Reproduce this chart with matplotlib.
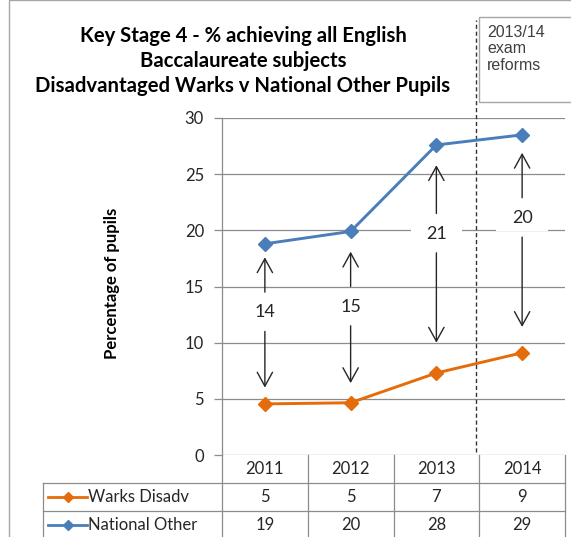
import numpy as np
import matplotlib
matplotlib.use('Agg')
import matplotlib.pyplot as plt
from matplotlib.patches import Rectangle
from matplotlib.transforms import blended_transform_factory

# KS4 EBacc results, % of pupils
years = ['2011', '2012', '2013', '2014']
warks_disadv = [4.55, 4.65, 7.3, 9.1]
national_other = [18.8, 19.9, 27.6, 28.5]
series_names = ['Warks Disadv', 'National Other']

# where the gap arrows sit (y values): head near top, head near bottom, label
arrow_top = [17.6, 18.1, 25.8, 26.9]
arrow_bottom = [6.0, 6.4, 10.0, 11.4]
label_y = [12.7, 13.2, 19.7, 21.1]

orange = '#e46c0a'
blue = '#4a7ebb'
grey = '#8c8c8c'
txt = '#262626'

plt.rcParams['font.family'] = ['Lato', 'DejaVu Sans']

W, H = 571, 537
fig = plt.figure(figsize=(W / 100, H / 100), dpi=100)

def fx(px):
    return px / W

def fy(py):
    return 1 - py / H

# chart area border
fig.patches.append(Rectangle((fx(9), fy(600)), fx(700), 600 / H, transform=fig.transFigure,
                             fill=False, ec='#a6a6a6', lw=1))

ax = fig.add_axes([fx(222), fy(455), fx(565) - fx(222), fy(118) - fy(455)])
x = np.arange(len(years))
ax.set_xlim(-0.5, len(years) - 0.5)
ax.set_ylim(0, 30)
ax.set_yticks(range(0, 31, 5))
ax.set_xticks([])
for s in ['top', 'right', 'bottom']:
    ax.spines[s].set_visible(False)
ax.spines['left'].set_color(grey)
ax.spines['left'].set_linewidth(0.9)
ax.tick_params(axis='y', length=6, width=0.9, color=grey, pad=7, labelsize=12, labelcolor=txt)
ax.grid(axis='y', color=grey, lw=0.9)
ax.set_axisbelow(True)

ax.plot(x, warks_disadv, color=orange, lw=2.1, marker='D', ms=7.5, zorder=3)
ax.plot(x, national_other, color=blue, lw=2.1, marker='D', ms=7.5, zorder=3)

# rounded values shown in the table; gaps are worked out from them
def rnd(v):
    return int(v + 0.5)

warks_r = [rnd(v) for v in warks_disadv]
nat_r = [rnd(v) for v in national_other]
gaps = [n - w for n, w in zip(nat_r, warks_r)]

arrow_kw = dict(arrowstyle='->,head_length=1.0,head_width=0.55', color=txt, lw=1,
                shrinkA=0, shrinkB=0)
for i in range(len(years)):
    ax.annotate('', xy=(x[i], arrow_top[i]), xytext=(x[i], label_y[i] + 1.8),
                arrowprops=arrow_kw, zorder=4)
    ax.annotate('', xy=(x[i], arrow_bottom[i]), xytext=(x[i], label_y[i] - 1.7),
                arrowprops=arrow_kw, zorder=4)
    ax.text(x[i], label_y[i], str(gaps[i]), ha='center', va='center', fontsize=13,
            color=txt, zorder=4,
            bbox=dict(boxstyle='square,pad=0.2', fc='white', ec='none'))
# white gap behind the labels that sit on a gridline
for i in range(len(years)):
    if label_y[i] > 18:
        ax.add_patch(Rectangle((x[i] - 0.3, label_y[i] - 1.2), 0.6, 2.4, fc='white',
                               ec='none', zorder=2.5))

# exam reform marker
ax.axvline(2.46, ymin=0.01, ymax=1.29, color='#333333', lw=1, ls=(0, (3, 2)),
           clip_on=False, zorder=2)

# data table under the axis
tr = blended_transform_factory(ax.transData, ax.transAxes)
rh = 28 / 337
tleft = (43 - 222) / 343
line_kw = dict(color=grey, lw=0.9, clip_on=False)
for k in range(len(years) + 1):
    ax.plot([k - 0.5, k - 0.5], [0, -3 * rh], transform=tr, **line_kw)
ax.plot([tleft, 1], [-rh, -rh], transform=ax.transAxes, **line_kw)
ax.plot([tleft, 1], [-2 * rh, -2 * rh], transform=ax.transAxes, **line_kw)
ax.plot([tleft, tleft], [-rh, -3 * rh], transform=ax.transAxes, **line_kw)

for i, yr in enumerate(years):
    ax.text(x[i], -0.5 * rh, yr, transform=tr, ha='center', va='center', fontsize=12,
            color=txt)
    ax.text(x[i], -1.5 * rh, str(warks_r[i]), transform=tr, ha='center', va='center',
            fontsize=12, color=txt)
    ax.text(x[i], -2.5 * rh, str(nat_r[i]), transform=tr, ha='center', va='center',
            fontsize=12, color=txt)

k0, k1, km = (48 - 222) / 343, (87 - 222) / 343, (68 - 222) / 343
for row, (name, col) in enumerate(zip(series_names, [orange, blue])):
    yy = -(row + 1.5) * rh
    ax.plot([k0, k1], [yy, yy], transform=ax.transAxes, color=col, lw=2, clip_on=False)
    ax.plot([km], [yy], transform=ax.transAxes, color=col, marker='D', ms=5.5, clip_on=False)
    ax.text((88 - 222) / 343, yy, name, transform=ax.transAxes, ha='left', va='center',
            fontsize=12, color=txt)

# title and axis label
fig.text(fx(243), fy(61), 'Key Stage 4 - % achieving all English\nBaccalaureate subjects\n'
         'Disadvantaged Warks v National Other Pupils', ha='center', va='center',
         fontsize=14.6, fontweight='bold', color='black', linespacing=1.32)
fig.text(fx(112), fy(283), 'Percentage of pupils', rotation=90, ha='center', va='center',
         fontsize=12, fontweight='bold', color='black')

# note box
fig.patches.append(Rectangle((fx(479), fy(102)), fx(120), (102 - 17) / H,
                             transform=fig.transFigure, fc='white', ec='#a6a6a6', lw=1))
fig.text(fx(487), fy(25), '2013/14\nexam\nreforms', ha='left', va='top', fontsize=11.5,
         color='#404040', family='Liberation Sans', linespacing=1.12)

fig.savefig('out.png', dpi=100)
